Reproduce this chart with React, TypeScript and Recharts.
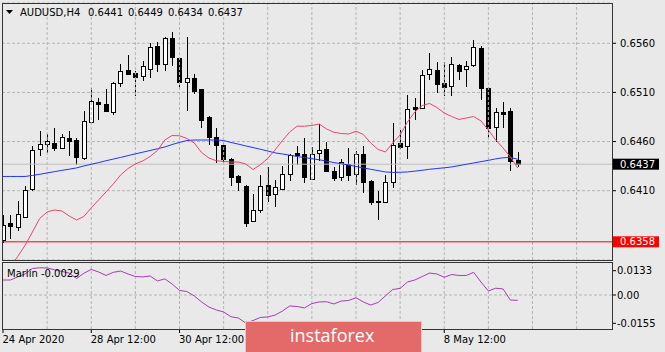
import React from 'react';
import { ComposedChart, Bar, Line, XAxis, YAxis, CartesianGrid, ReferenceLine } from 'recharts';

// AUDUSD H4 candles
const opens = [
  0.6360, 0.6377, 0.6373, 0.6383, 0.6412, 0.6452, 0.6458, 0.6459, 0.6453, 0.6464,
  0.6462, 0.6443, 0.6480, 0.6500, 0.6498, 0.6490, 0.6520, 0.6533, 0.6530, 0.6527,
  0.6534, 0.6557, 0.6539, 0.6565, 0.6545, 0.6521, 0.6525, 0.6513, 0.6485, 0.6465,
  0.6457, 0.6442, 0.6425, 0.6415, 0.6379, 0.6390, 0.6416, 0.6407, 0.6412, 0.6427,
  0.6448, 0.6447, 0.6422, 0.6448, 0.6452, 0.6430, 0.6424, 0.6437, 0.6427, 0.6447,
  0.6420, 0.6400, 0.6399, 0.6419, 0.6459, 0.6455, 0.6495, 0.6494, 0.6529, 0.6533,
  0.6520, 0.6517, 0.6538, 0.6534, 0.6538, 0.6555, 0.6515, 0.6475, 0.6490, 0.6491,
  0.6441,
];
const highs = [
  0.6385, 0.6385, 0.6400, 0.6415, 0.6456, 0.6471, 0.6468, 0.6474, 0.6468, 0.6471,
  0.6464, 0.6491, 0.6515, 0.6504, 0.6513, 0.6521, 0.6539, 0.6548, 0.6532, 0.6542,
  0.6560, 0.6561, 0.6566, 0.6572, 0.6546, 0.6566, 0.6529, 0.6514, 0.6486, 0.6474,
  0.6459, 0.6443, 0.6426, 0.6416, 0.6407, 0.6426, 0.6434, 0.6421, 0.6435, 0.6447,
  0.6456, 0.6464, 0.6454, 0.6478, 0.6460, 0.6434, 0.6442, 0.6453, 0.6450, 0.6455,
  0.6421, 0.6410, 0.6426, 0.6479, 0.6472, 0.6507, 0.6504, 0.6533, 0.6550, 0.6541,
  0.6541, 0.6546, 0.6539, 0.6542, 0.6563, 0.6557, 0.6516, 0.6494, 0.6500, 0.6494,
  0.6449,
];
const lows = [
  0.6357, 0.6361, 0.6369, 0.6382, 0.6410, 0.6445, 0.6448, 0.6450, 0.6452, 0.6445,
  0.6436, 0.6441, 0.6479, 0.6482, 0.6490, 0.6487, 0.6516, 0.6528, 0.6506, 0.6522,
  0.6525, 0.6531, 0.6532, 0.6537, 0.6514, 0.6491, 0.6508, 0.6474, 0.6457, 0.6438,
  0.6438, 0.6415, 0.6410, 0.6373, 0.6378, 0.6387, 0.6399, 0.6393, 0.6411, 0.6420,
  0.6436, 0.6418, 0.6421, 0.6440, 0.6429, 0.6420, 0.6420, 0.6420, 0.6416, 0.6408,
  0.6395, 0.6380, 0.6397, 0.6413, 0.6452, 0.6442, 0.6482, 0.6494, 0.6523, 0.6509,
  0.6506, 0.6506, 0.6523, 0.6516, 0.6536, 0.6502, 0.6464, 0.6460, 0.6474, 0.6430,
  0.6434,
];
const closes = [
  0.6375, 0.6374, 0.6386, 0.6411, 0.6451, 0.6458, 0.6461, 0.6453, 0.6465, 0.6461,
  0.6444, 0.6481, 0.6501, 0.6498, 0.6491, 0.6520, 0.6532, 0.6529, 0.6526, 0.6537,
  0.6556, 0.6539, 0.6565, 0.6546, 0.6521, 0.6525, 0.6511, 0.6482, 0.6465, 0.6457,
  0.6442, 0.6424, 0.6419, 0.6377, 0.6390, 0.6415, 0.6406, 0.6414, 0.6427, 0.6446,
  0.6446, 0.6424, 0.6447, 0.6451, 0.6430, 0.6423, 0.6439, 0.6426, 0.6447, 0.6419,
  0.6399, 0.6399, 0.6419, 0.6457, 0.6454, 0.6493, 0.6493, 0.6528, 0.6534, 0.6519,
  0.6516, 0.6539, 0.6532, 0.6537, 0.6556, 0.6515, 0.6474, 0.6490, 0.6488, 0.6440,
  0.6437,
];

// red moving average
const maFast = [
  0.63223, 0.63324, 0.63431, 0.63543, 0.6368, 0.63818, 0.63884, 0.63904, 0.63894, 0.63843,
  0.63802, 0.63838, 0.63925, 0.64006, 0.64087, 0.64169, 0.6426, 0.64326, 0.64372, 0.64403,
  0.64448, 0.64509, 0.64616, 0.64662, 0.64659, 0.64632, 0.64586, 0.64489, 0.64433, 0.64405,
  0.64398, 0.64392, 0.64392, 0.64372, 0.64316, 0.64365, 0.64428, 0.64515, 0.64611, 0.64698,
  0.64757, 0.64756, 0.64764, 0.64779, 0.64728, 0.64695, 0.64682, 0.64677, 0.64705, 0.64672,
  0.64586, 0.6452, 0.64494, 0.64586, 0.64667, 0.64799, 0.64901, 0.64967, 0.64988, 0.64947,
  0.64891, 0.64855, 0.64825, 0.6484, 0.64855, 0.6481, 0.64718, 0.64616, 0.64535, 0.64443,
  0.64331,
];
// blue moving average
const maSlow = [
  0.64245, 0.64245, 0.64245, 0.64245, 0.64255, 0.64267, 0.64281, 0.64294, 0.64307, 0.64319,
  0.64332, 0.64352, 0.64369, 0.64386, 0.64405, 0.64422, 0.64439, 0.64457, 0.64475, 0.64492,
  0.64509, 0.64527, 0.64545, 0.6457, 0.64591, 0.64611, 0.64616, 0.64616, 0.64616, 0.64616,
  0.64611, 0.64591, 0.64574, 0.64556, 0.64539, 0.64522, 0.64504, 0.64485, 0.64474, 0.64461,
  0.64448, 0.64437, 0.64426, 0.64415, 0.64401, 0.64386, 0.64374, 0.64361, 0.64347, 0.64332,
  0.64318, 0.64305, 0.64291, 0.64286, 0.64288, 0.64291, 0.64299, 0.64308, 0.64318, 0.64326,
  0.64333, 0.64342, 0.64355, 0.64369, 0.64382, 0.64396, 0.64409, 0.64424, 0.64435, 0.64438,
  0.6442,
];
const marlin = [
  0.0082, 0.0082, 0.0099, 0.0115, 0.0145, 0.0149, 0.0148, 0.0138, 0.0129, 0.012,
  0.009, 0.0119, 0.014, 0.0126, 0.0107, 0.0124, 0.0131, 0.0115, 0.0101, 0.0099,
  0.0104, 0.0077, 0.0088, 0.006, 0.0025, 0.0019, -0.0005, -0.0038, -0.0066, -0.0082,
  -0.0093, -0.0119, -0.0126, -0.0153, -0.014, -0.0123, -0.012, -0.011, -0.0088, -0.006,
  -0.0063, -0.0071, -0.0047, -0.0038, -0.0037, -0.0049, -0.0033, -0.003, -0.0015, -0.0038,
  -0.0055, -0.0041, -0.0005, 0.003, 0.0036, 0.0071, 0.0082, 0.0101, 0.012, 0.0115,
  0.0097, 0.0112, 0.0107, 0.0107, 0.0124, 0.0071, 0.0022, 0.0037, 0.0033, -0.0028,
  -0.0029,
];

const timeTicks = [0, 12, 24, 60];
const timeLabels = ['24 Apr 2020', '28 Apr 12:00', '30 Apr 12:00', '8 May 12:00'];
const gridBars = [6, 12, 18, 24, 30, 36, 42, 48, 54, 60, 66, 72, 78];
const priceTicks = [0.641, 0.646, 0.651, 0.656];
const marlinTicks = [-0.0155, 0, 0.0133];
const marlinTickLabels = ['-0.0155', '0.00', '0.0133'];
const supportLevel = 0.6358;
const symbol = 'AUDUSD,H4';
const indicatorName = 'Marlin';

const data = opens.map((o, i) => ({
  i,
  open: o,
  high: highs[i],
  low: lows[i],
  close: closes[i],
  range: [lows[i], highs[i]],
  fast: maFast[i],
  slow: maSlow[i],
  marlin: marlin[i],
}));
const last = data[data.length - 1];

const xDomain = [-0.136, 82.812];
const priceDomain = [0.63395, 0.6601];
const marlinDomain = [-0.01862, 0.01806];

const FONT = 'DejaVu Sans';
const BG = '#e9e9e9';
const GRID = '#b4b4b4';

function Candle(props: any) {
  const { x, y, width, height, payload } = props;
  if (x == null || !payload) return null;
  const { open, close, high, low } = payload;
  const cx = Math.round(x + width / 2);
  const py = (v: number) => y + ((high - v) / (high - low)) * height;
  const top = Math.round(py(Math.max(open, close)));
  const bot = Math.round(py(Math.min(open, close)));
  const up = close >= open;
  return (
    <g shapeRendering="crispEdges">
      <line x1={cx + 0.5} x2={cx + 0.5} y1={Math.round(y)} y2={Math.round(y + height)} stroke="#000" />
      <rect
        x={cx - 1.5}
        y={top + 0.5}
        width={4}
        height={Math.max(bot - top, 1)}
        fill={up ? '#fff' : '#000'}
        stroke="#000"
      />
    </g>
  );
}

function PriceTag(props: any) {
  const { viewBox, text, bg } = props;
  if (!viewBox) return null;
  const left = viewBox.x + viewBox.width + 1;
  return (
    <g>
      <rect x={left} y={viewBox.y - 5.5} width={46} height={11} fill={bg} />
      <text x={left + 7} y={viewBox.y} dy="0.355em" fill="#fff" fontSize={10} fontFamily={FONT}>
        {text}
      </text>
    </g>
  );
}

function TimeTick(props: any) {
  const idx = timeTicks.indexOf(props.payload.value);
  if (idx < 0) return null;
  return (
    <text x={props.x - 0.5} y={props.y} dy="0.71em" textAnchor="start" fontSize={10} fontFamily={FONT} fill="#000">
      {timeLabels[idx]}
    </text>
  );
}

export default function App() {
  return (
    <div
      style={{
        position: 'absolute',
        left: 0,
        top: 0,
        width: 665,
        height: 352,
        background: BG,
        overflow: 'hidden',
        fontFamily: FONT,
      }}
    >
      <div style={{ position: 'absolute', left: 0, top: 0 }}>
        <ComposedChart width={665} height={260} data={data} margin={{ top: 3, right: 0, bottom: 0, left: 2 }}>
          <CartesianGrid vertical={false} stroke={GRID} strokeDasharray="3 2" />
          {gridBars.map((b) => (
            <ReferenceLine key={b} x={b} stroke={GRID} strokeDasharray="3 2" />
          ))}
          <XAxis type="number" dataKey="i" domain={xDomain} allowDataOverflow hide />
          <YAxis
            orientation="right"
            width={53}
            type="number"
            domain={priceDomain}
            allowDataOverflow
            ticks={priceTicks}
            interval={0}
            tickFormatter={(v: number) => v.toFixed(4)}
            tick={{ fill: '#000', fontSize: 10, fontFamily: FONT }}
            tickSize={4}
            tickMargin={4}
            tickLine={{ stroke: '#000' }}
            axisLine={false}
          />
          <ReferenceLine
            y={last.close}
            stroke="#c0c0c0"
            label={(p: any) => <PriceTag {...p} text={last.close.toFixed(4)} bg="#000" />}
          />
          <ReferenceLine
            y={supportLevel}
            stroke="#ff0000"
            label={(p: any) => <PriceTag {...p} text={supportLevel.toFixed(4)} bg="#ff0000" />}
          />
          <Line type="linear" dataKey="slow" stroke="#2233ff" strokeWidth={1} dot={false} isAnimationActive={false} />
          <Line type="linear" dataKey="fast" stroke="#e8476b" strokeWidth={1} dot={false} isAnimationActive={false} />
          <Bar dataKey="range" barSize={5} isAnimationActive={false} shape={(p: any) => <Candle {...p} />} />
        </ComposedChart>
      </div>

      <div style={{ position: 'absolute', left: 0, top: 262 }}>
        <ComposedChart width={665} height={90} data={data} margin={{ top: 0, right: 0, bottom: 0, left: 2 }}>
          {gridBars.map((b) => (
            <ReferenceLine key={b} x={b} stroke={GRID} strokeDasharray="3 2" />
          ))}
          <ReferenceLine y={0} stroke={GRID} strokeDasharray="3 2" />
          <XAxis
            type="number"
            dataKey="i"
            domain={xDomain}
            allowDataOverflow
            ticks={timeTicks}
            interval={0}
            height={23}
            tickSize={4}
            tickMargin={3}
            axisLine={false}
            tickLine={{ stroke: '#000' }}
            tick={(p: any) => <TimeTick {...p} />}
          />
          <YAxis
            orientation="right"
            width={53}
            type="number"
            domain={marlinDomain}
            allowDataOverflow
            ticks={marlinTicks}
            interval={0}
            tickFormatter={(v: number) => marlinTickLabels[marlinTicks.indexOf(v)]}
            tick={{ fill: '#000', fontSize: 10, fontFamily: FONT }}
            tickSize={4}
            tickMargin={1}
            tickLine={{ stroke: '#000' }}
            axisLine={false}
          />
          <Line type="linear" dataKey="marlin" stroke="#a83cb4" strokeWidth={1} dot={false} isAnimationActive={false} />
        </ComposedChart>
      </div>

      <svg
        width={665}
        height={352}
        style={{ position: 'absolute', left: 0, top: 0, pointerEvents: 'none' }}
      >
        <g shapeRendering="crispEdges" fill="none" stroke="#333">
          <rect x={2.5} y={3.5} width={610} height={257} />
          <rect x={2.5} y={262.5} width={610} height={67} />
        </g>
        <polygon points="6,10 13,10 9.5,14" fill="#000" />
        <text x={20} y={16} fontSize={10} fontFamily={FONT} fill="#000">
          {symbol}
        </text>
        <text x={88} y={16} fontSize={10} fontFamily={FONT} fill="#000" wordSpacing={1.8}>
          {[last.open, last.high, last.low, last.close].map((v) => v.toFixed(4)).join(' ')}
        </text>
        <text x={7} y={277} fontSize={10} fontFamily={FONT} fill="#000">
          {`${indicatorName} ${last.marlin.toFixed(4)}`}
        </text>
        <rect x={245.5} y={321.5} width={176} height={40} fill="#e46a6a" stroke="#f2c2c2" />
        <text x={290} y={342} fontSize={18} fontFamily="Open Sans" fill="#fff">
          instaforex
        </text>
      </svg>
    </div>
  );
}
